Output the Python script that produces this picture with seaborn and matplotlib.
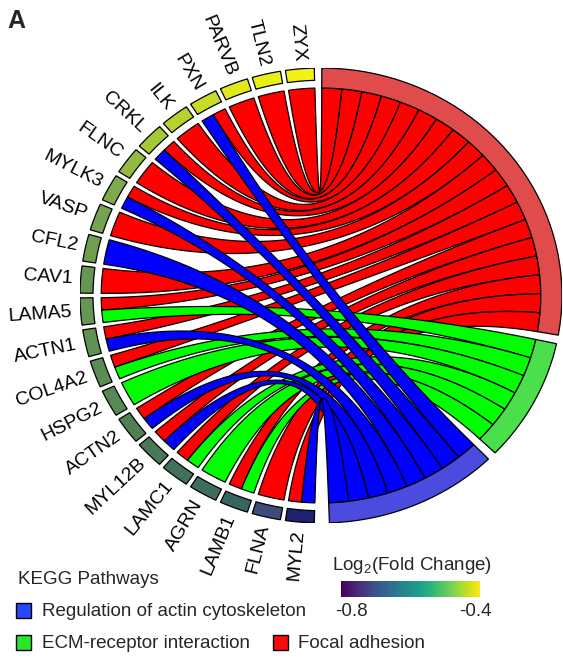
import numpy as np
import matplotlib
matplotlib.use("Agg")
import matplotlib.pyplot as plt
from matplotlib.patches import Polygon, Rectangle
from matplotlib.colors import LinearSegmentedColormap, Normalize
import matplotlib.cm as cm
import seaborn as sns

# ---------------- data ----------------
genes = ["ZYX", "TLN2", "PARVB", "PXN", "ILK", "CRKL", "FLNC", "MYLK3", "VASP",
         "CFL2", "CAV1", "LAMA5", "ACTN1", "COL4A2", "HSPG2", "ACTN2", "MYL12B",
         "LAMC1", "AGRN", "LAMB1", "FLNA", "MYL2"]
log2fc = [-0.40, -0.41, -0.42, -0.45, -0.47, -0.49, -0.51, -0.53, -0.54,
          -0.55, -0.57, -0.57, -0.58, -0.59, -0.60, -0.62, -0.64,
          -0.66, -0.67, -0.69, -0.78, -0.84]
pathways = ["Focal adhesion", "ECM-receptor interaction",
            "Regulation of actin cytoskeleton"]
focal_adhesion = [1, 1, 1, 1, 1, 1, 1, 1, 1, 0, 1, 1, 1, 1, 0, 1, 1, 1, 0, 1, 1, 1]
ecm_receptor = [0, 0, 0, 0, 0, 0, 0, 0, 0, 0, 0, 1, 0, 1, 1, 0, 0, 1, 1, 1, 0, 0]
actin_regulation = [0, 0, 0, 1, 0, 1, 0, 1, 0, 1, 0, 0, 1, 0, 0, 1, 1, 0, 0, 0, 0, 1]
legend_order = ["Regulation of actin cytoskeleton", "ECM-receptor interaction",
                "Focal adhesion"]
cbar_ticks = [-0.8, -0.4]

membership = [focal_adhesion, ecm_receptor, actin_regulation]
ribbon_colors = ["#FF0000", "#00FF00", "#0000FF"]
arc_colors = ["#E04B4B", "#4BDF4B", "#4B4BDF"]
legend_colors = ["#2846FA", "#28E628", "#FA0A0A"]

# ---------------- style ----------------
sns.set_theme(style="white")
plt.rcParams["font.family"] = ["Liberation Sans", "DejaVu Sans"]
plt.rcParams["mathtext.fontset"] = "custom"
plt.rcParams["mathtext.rm"] = "Liberation Sans"
plt.rcParams["mathtext.it"] = "Liberation Sans:italic"

W, H = 563, 660
fig = plt.figure(figsize=(W / 100, H / 100), dpi=100)
fig.patch.set_facecolor("white")

cx, cy, Rx, Ry = 321, 295.5, 241, 227.5
ax = fig.add_axes([(cx - Rx) / W, (H - cy - Ry) / H, 2 * Rx / W, 2 * Ry / H])
ax.set_xlim(-1, 1)
ax.set_ylim(-1, 1)
ax.axis("off")

R_RIB = 0.912
R_BOX_IN = 0.946
R_OUT = 1.0


def pt(r, a):
    t = np.deg2rad(a)
    return np.array([r * np.cos(t), r * np.sin(t)])


def arc(r, a1, a2, n=40):
    t = np.deg2rad(np.linspace(a1, a2, n))
    return np.column_stack([r * np.cos(t), r * np.sin(t)])


def band(r1, r2, a1, a2):
    return np.vstack([arc(r2, a1, a2), arc(r1, a2, a1)])


def bezier(p0, p2, n=60):
    t = np.linspace(0, 1, n)[:, None]
    return (1 - t) ** 2 * p0 + t ** 2 * p2


# gene slots (left half)
g_start, g_end = 91.0, 269.0
ng = len(genes)
s = (g_end - g_start) / ng
pad = 0.6

# pathway slots (right half)
counts = [sum(m) for m in membership]
p_top, p_bot, p_gap = 89.8, -88.0, 2.2
unit = (p_top - p_bot - p_gap * (len(pathways) - 1)) / sum(counts)
p_ranges = []
a = p_top
for c in counts:
    p_ranges.append((a, a - c * unit))
    a = a - c * unit - p_gap

# assign ribbons
ribbons = {k: [] for k in range(len(pathways))}
p_next = [r[0] for r in p_ranges]
for i, g in enumerate(genes):
    mem = [k for k in range(len(pathways)) if membership[k][i]]
    lo = g_start + i * s + pad
    hi = g_start + (i + 1) * s - pad
    w = (hi - lo) / len(mem)
    for j, k in enumerate(mem):
        a1, a2 = lo + j * w, lo + (j + 1) * w
        b2 = p_next[k]
        b1 = b2 - unit
        p_next[k] = b1
        ribbons[k].append((a1, a2, b1, b2))

for k in [0, 1, 2]:
    for (a1, a2, b1, b2) in ribbons[k]:
        poly = np.vstack([
            arc(R_RIB, a1, a2, 15),
            bezier(pt(R_RIB, a2), pt(R_RIB, b1)),
            arc(R_RIB, b1, b2, 10),
            bezier(pt(R_RIB, b2), pt(R_RIB, a1)),
        ])
        ax.add_patch(Polygon(poly, closed=True, facecolor=ribbon_colors[k],
                             edgecolor="black", lw=0.9, joinstyle="round"))

# pathway arcs
for k, (a_hi, a_lo) in enumerate(p_ranges):
    ax.add_patch(Polygon(band(R_RIB, R_OUT, a_hi, a_lo), closed=True,
                         facecolor=arc_colors[k], edgecolor="black", lw=0.9))

# gene boxes + labels
gcmap = LinearSegmentedColormap.from_list(
    "g", [(0.0, "#19196F"), (0.15, "#3C4B78"), (0.35, "#37645F"),
          (0.55, "#558755"), (0.70, "#78A550"), (0.80, "#A5C837"),
          (1.0, "#F2F214")])
gnorm = Normalize(vmin=-0.85, vmax=-0.40)
for i, g in enumerate(genes):
    lo = g_start + i * s + pad
    hi = g_start + (i + 1) * s - pad
    ax.add_patch(Polygon(band(R_BOX_IN, R_OUT, lo, hi), closed=True,
                         facecolor=gcmap(gnorm(log2fc[i])), edgecolor="black", lw=0.9))
    mid = (lo + hi) / 2
    p = pt(1.035, mid)
    ang_px = np.rad2deg(np.arctan2(Ry * np.sin(np.deg2rad(mid)), Rx * np.cos(np.deg2rad(mid))))
    ax.text(p[0], p[1], g, rotation=ang_px - 180, rotation_mode="anchor",
            ha="right", va="center", fontsize=14, color="black", clip_on=False)

# ---------------- panel letter ----------------
fig.text(7 / W, 1 - 21 / H, "A", fontsize=18, fontweight="bold", va="center", ha="left")

# ---------------- pathway legend ----------------
def fx(x):
    return x / W


def fy(y):
    return 1 - y / H


fig.text(fx(18), fy(580), "KEGG Pathways", fontsize=13.5, va="center", ha="left")
leg_pos = [(16, 603, 42), (16, 635, 42), (273, 635, 298)]
for name, col, (x0, y0, tx) in zip(legend_order, legend_colors, leg_pos):
    fig.patches.append(Rectangle((fx(x0), fy(y0 + 15)), 15 / W, 15 / H,
                                 transform=fig.transFigure, facecolor=col,
                                 edgecolor="black", lw=1.0))
    fig.text(fx(tx), fy(y0 + 8), name, fontsize=13.5, va="center", ha="left")

# ---------------- colorbar ----------------
vir = sns.color_palette("viridis", as_cmap=True)
cax = fig.add_axes([fx(341), fy(597), 139 / W, 16 / H])
sm = cm.ScalarMappable(norm=Normalize(vmin=-0.833, vmax=-0.384), cmap=vir)
cb = fig.colorbar(sm, cax=cax, orientation="horizontal", ticks=cbar_ticks)
cb.outline.set_visible(False)
cb.ax.tick_params(length=0, pad=4, labelsize=13.5)
cb.ax.set_xticklabels([f"{t:.1f}" for t in cbar_ticks])
fig.text(fx(412), fy(566), "Log$_2$(Fold Change)", fontsize=13.5, ha="center", va="center")

fig.savefig("out.png", dpi=100, facecolor="white")
